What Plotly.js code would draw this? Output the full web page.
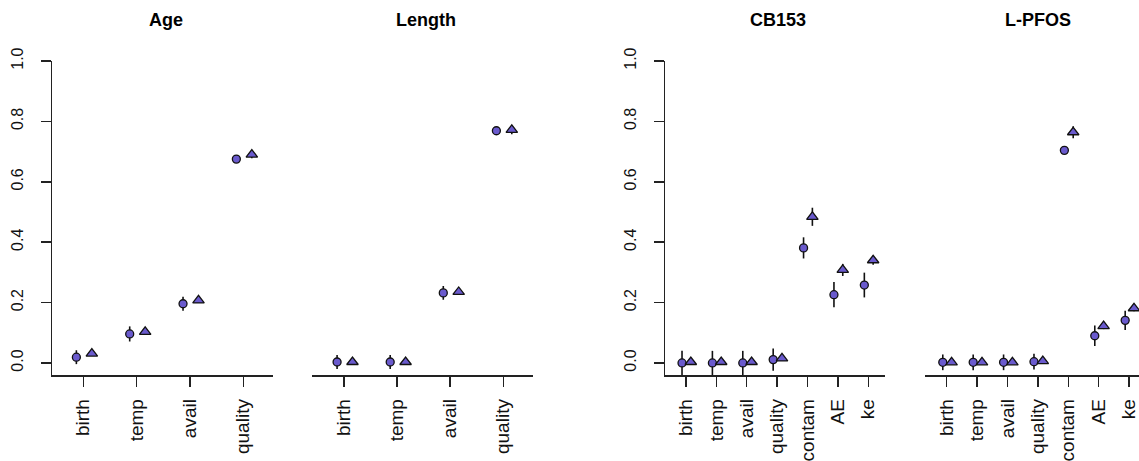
<html>
<head>
<meta charset="utf-8">
<script src="https://cdn.plot.ly/plotly-3.0.1.min.js"></script>
<style>
html,body{margin:0;padding:0;overflow:hidden;background:#fff;}
#chart{width:1146px;height:461px;}
</style>
</head>
<body>
<div id="chart"></div>
<script>
// ---- data ----
const panelTitles = ['Age', 'Length', 'CB153', 'L-PFOS'];
const catsShort = ['birth', 'temp', 'avail', 'quality'];
const catsLong = ['birth', 'temp', 'avail', 'quality', 'contam', 'AE', 'ke'];

const ageCirc = [0.019, 0.096, 0.196, 0.675];
const ageCircErr = [0.023, 0.025, 0.023, 0.008];
const ageTri = [0.031, 0.103, 0.207, 0.690];
const ageTriErr = [0.006, 0.006, 0.006, 0.012];

const lenCirc = [0.003, 0.003, 0.232, 0.769];
const lenCircErr = [0.023, 0.023, 0.023, 0.008];
const lenTri = [0.003, 0.003, 0.235, 0.772];
const lenTriErr = [0.005, 0.005, 0.005, 0.015];

const cbCirc = [0.000, 0.000, 0.000, 0.011, 0.381, 0.226, 0.258];
const cbCircErr = [0.040, 0.040, 0.040, 0.037, 0.035, 0.042, 0.041];
const cbTri = [0.003, 0.003, 0.003, 0.015, 0.484, 0.308, 0.340];
const cbTriErr = [0.005, 0.005, 0.005, 0.005, 0.030, 0.020, 0.015];

const pfCirc = [0.002, 0.002, 0.002, 0.004, 0.704, 0.090, 0.141];
const pfCircErr = [0.026, 0.026, 0.026, 0.026, 0.005, 0.034, 0.032];
const pfTri = [0.002, 0.002, 0.002, 0.006, 0.764, 0.122, 0.181];
const pfTriErr = [0.005, 0.005, 0.005, 0.005, 0.020, 0.010, 0.010];

const yTickVals = [0, 0.2, 0.4, 0.6, 0.8, 1.0];
const yTickText = ['0.0', '0.2', '0.4', '0.6', '0.8', '1.0'];

// ---- styling / layout ----
const W = 1146, H = 461;
const fill = '#6A5ACD';
const circOff = -0.13, triOff = 0.16;
const domainsPx = [[52, 273], [311.7, 533.3], [665, 885], [925, 1145.7]];
const xRanges = [[0.413, 4.557], [0.392, 4.565], [0.31, 7.55], [0.285, 7.545]];
const showY = [true, false, true, false];
const panels = [
  {cats: catsShort, c: ageCirc, ce: ageCircErr, t: ageTri, te: ageTriErr},
  {cats: catsShort, c: lenCirc, ce: lenCircErr, t: lenTri, te: lenTriErr},
  {cats: catsLong, c: cbCirc, ce: cbCircErr, t: cbTri, te: cbTriErr},
  {cats: catsLong, c: pfCirc, ce: pfCircErr, t: pfTri, te: pfTriErr}
];

const font = 'Liberation Sans, Arial, Helvetica, sans-serif';
const traces = [];
const layout = {
  width: W, height: H,
  margin: {l: 0, r: 0, t: 61.3, b: 86},
  paper_bgcolor: '#fff', plot_bgcolor: '#fff',
  showlegend: false,
  font: {family: font, color: '#000'},
  annotations: []
};

panels.forEach((p, i) => {
  const n = i + 1;
  const xa = n === 1 ? 'x' : 'x' + n;
  const ya = n === 1 ? 'y' : 'y' + n;
  const idx = p.cats.map((_, k) => k + 1);
  traces.push({
    type: 'scatter', mode: 'markers', xaxis: xa, yaxis: ya, cliponaxis: false,
    x: idx.map(v => v + circOff), y: p.c,
    error_y: {type: 'data', array: p.ce, visible: true, color: '#111', thickness: 1.6, width: 0},
    marker: {symbol: 'circle', size: 8, color: fill, line: {color: '#111', width: 1.3}}
  });
  traces.push({
    type: 'scatter', mode: 'markers', xaxis: xa, yaxis: ya, cliponaxis: false,
    x: idx.map(v => v + triOff), y: p.t,
    error_y: {type: 'data', array: p.te, visible: true, color: '#111', thickness: 1.6, width: 0},
    marker: {symbol: 'triangle-up', size: 10, color: fill, line: {color: '#111', width: 1.3}}
  });
  const d = [domainsPx[i][0] / W, domainsPx[i][1] / W];
  layout['xaxis' + (n === 1 ? '' : n)] = {
    domain: d, range: xRanges[i], anchor: ya,
    tickmode: 'array', tickvals: idx, ticktext: p.cats,
    tickangle: -90, ticks: 'outside', ticklen: 10, tickwidth: 1.5, tickcolor: '#222',
    ticklabelstandoff: 5,
    showline: true, linecolor: '#222', linewidth: 1.5,
    showgrid: false, zeroline: false,
    tickfont: {family: font, size: 19, color: '#111'}
  };
  layout['yaxis' + (n === 1 ? '' : n)] = {
    domain: [0, 1], range: [-0.04, 1.0], anchor: xa,
    tickmode: 'array', tickvals: yTickVals, ticktext: yTickText,
    tickangle: -90,
    ticks: showY[i] ? 'outside' : '', ticklen: 10, tickwidth: 1.5, tickcolor: '#222',
    ticklabelstandoff: 11,
    showticklabels: showY[i], showline: showY[i], linecolor: '#222', linewidth: 1.5,
    showgrid: false, zeroline: false,
    tickfont: {family: font, size: 16, color: '#111'}
  };
  layout.annotations.push({
    text: '<b>' + panelTitles[i] + '</b>', xref: 'paper', yref: 'paper',
    x: (d[0] + d[1]) / 2, y: 1, xanchor: 'center', yanchor: 'middle',
    xshift: 3, yshift: 41, showarrow: false,
    font: {family: font, size: 18, color: '#000'}
  });
});

Plotly.newPlot('chart', traces, layout, {displayModeBar: false, staticPlot: true});
</script>
</body>
</html>
